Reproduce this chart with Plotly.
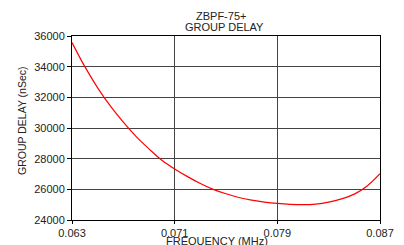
import plotly.graph_objects as go

freq = [0.063, 0.064, 0.065, 0.066, 0.067, 0.068, 0.069, 0.070, 0.071, 0.072,
        0.073, 0.074, 0.075, 0.076, 0.077, 0.078, 0.079, 0.080, 0.081, 0.082,
        0.083, 0.084, 0.085, 0.086, 0.087]
delay = [35570, 34000, 32620, 31420, 30380, 29440, 28640, 27900, 27330, 26830,
         26380, 26000, 25710, 25470, 25300, 25170, 25080, 25020, 25000, 25040,
         25170, 25380, 25690, 26220, 27020]

x_ticks = [0.063, 0.071, 0.079, 0.087]
y_ticks = [24000, 26000, 28000, 30000, 32000, 34000, 36000]

font = "Liberation Sans, Arial, sans-serif"
# page is offset by the 8px body margin
OFF = 8
W, H = 404 - OFF, 245 - OFF
PX0, PX1, PY0, PY1 = 72, 380, 36, 220   # plot area in page pixels
L, R, T, B = PX0 - OFF, 404 - PX1, PY0 - OFF, 245 - PY1
PW, PH = PX1 - PX0, PY1 - PY0


def px(xp):
    return (xp - PX0) / PW


def py(yp):
    return (PY1 - yp) / PH


fig = go.Figure()
fig.add_trace(go.Scatter(x=freq, y=delay, mode="lines",
                         line=dict(color="#ff0000", width=1.2, shape="spline", smoothing=1.0),
                         showlegend=False, hoverinfo="skip"))

fig.update_layout(
    width=W, height=H,
    margin=dict(l=L, r=R, t=T, b=B),
    paper_bgcolor="white", plot_bgcolor="white",
    font=dict(family=font, size=11, color="#222"),
    annotations=[
        dict(text="ZBPF-75+", xref="paper", yref="paper", x=px(221), y=py(16),
             xanchor="center", yanchor="middle", showarrow=False,
             font=dict(size=11, family=font, color="#222")),
        dict(text="GROUP DELAY", xref="paper", yref="paper", x=px(224), y=py(27),
             xanchor="center", yanchor="middle", showarrow=False,
             font=dict(size=11, family=font, color="#222")),
        dict(text="FREQUENCY (MHz)", xref="paper", yref="paper", x=px(217), y=py(241),
             xanchor="center", yanchor="middle", showarrow=False,
             font=dict(size=11, family=font, color="#222")),
        dict(text="GROUP DELAY (nSec)", xref="paper", yref="paper", x=px(22), y=py(121),
             xanchor="center", yanchor="middle", textangle=-90, showarrow=False,
             font=dict(size=10.5, family=font, color="#222")),
    ],
)
fig.update_xaxes(range=[0.063, 0.087], tickvals=x_ticks, ticktext=[f"{v:.3f}" for v in x_ticks],
                 showgrid=True, gridcolor="#444", gridwidth=1,
                 showline=True, linecolor="#000", linewidth=1, mirror=True,
                 ticks="outside", ticklen=3, tickcolor="#000",
                 automargin=False, zeroline=False, fixedrange=True)
fig.update_yaxes(range=[24000, 36000], tickvals=y_ticks, ticktext=[str(v) for v in y_ticks],
                 showgrid=True, gridcolor="#444", gridwidth=1,
                 showline=True, linecolor="#000", linewidth=1, mirror=True,
                 ticks="outside", ticklen=4, tickcolor="#000",
                 automargin=False, zeroline=False, fixedrange=True)

fig.write_html("out.html")
